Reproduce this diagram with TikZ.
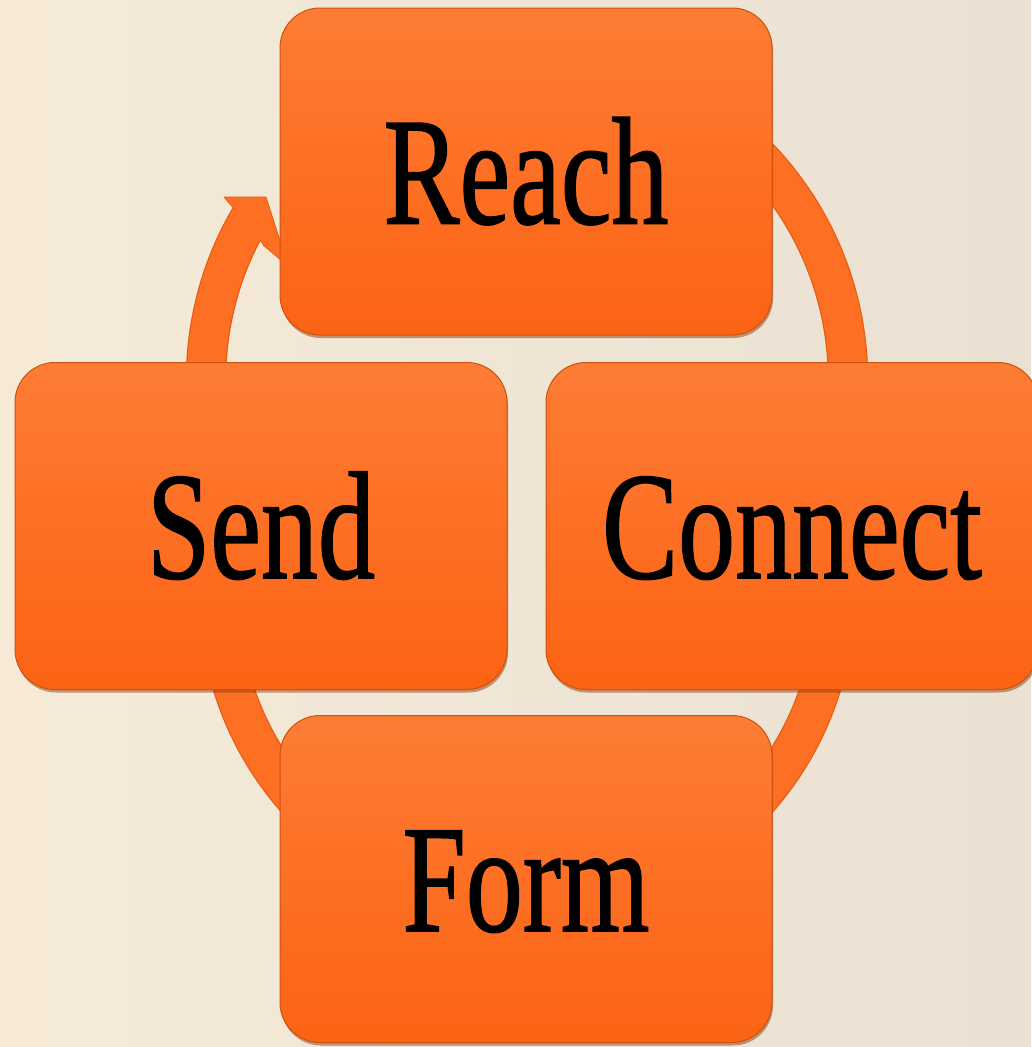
\documentclass[tikz,border=0pt]{standalone}
\usepackage{fontspec}
\setmainfont{Liberation Serif}
\newfontfamily\cyclefont[FakeBold=1.2]{Liberation Serif}
\usetikzlibrary{shadows}
\definecolor{bgL}{RGB}{246,234,215}
\definecolor{bgR}{RGB}{234,225,211}
\definecolor{boxTop}{RGB}{253,124,52}
\definecolor{boxBot}{RGB}{252,99,20}
\definecolor{boxEdge}{RGB}{205,82,12}
\definecolor{boxShadow}{RGB}{140,60,15}
\definecolor{ringFill}{RGB}{253,111,34}
\definecolor{ringEdge}{RGB}{232,92,18}
\newcommand\cyclelabel[1]{\scalebox{0.745}[1]{#1}}
\tikzset{
  blockbox/.style={shade, top color=boxTop, bottom color=boxBot, draw=boxEdge,
    line width=1pt, rounded corners=40pt, minimum width=492pt, minimum height=327pt,
    inner sep=0pt, font=\cyclefont\fontsize{153}{160}\selectfont, text height=104pt, text depth=0pt,
    drop shadow={shadow xshift=1pt, shadow yshift=-3pt, opacity=0.5, fill=boxShadow}},
  ringband/.style={line width=38pt, draw=ringFill, line cap=butt},
  ringedge/.style={line width=40.5pt, draw=ringEdge, line cap=butt},
}
\begin{document}
\begin{tikzpicture}[x=1pt,y=-1pt]
  \useasboundingbox (0,0) rectangle (1031,1047);
  \shade[left color=bgL, right color=bgR] (0,0) rectangle (1031,1047);
  \coordinate (ctop) at (527,380);
  \coordinate (cbot) at (527,595);
  % ring arcs (under the blocks)
  \foreach \st/\en/\c in {175/212/ctop, 298/365/ctop}{
    \draw[ringedge] ([shift={(\st:321)}]\c) arc[start angle=\st, end angle=\en, radius=321];
  }
  \foreach \st/\en/\c in {-5/52/cbot, 128/185/cbot}{
    \draw[ringedge] ([shift={(\st:308)}]\c) arc[start angle=\st, end angle=\en, radius=308];
  }
  \foreach \st/\en/\c in {175/212/ctop, 298/365/ctop}{
    \draw[ringband] ([shift={(\st:321)}]\c) arc[start angle=\st, end angle=\en, radius=321];
  }
  \foreach \st/\en/\c in {-5/52/cbot, 128/185/cbot}{
    \draw[ringband] ([shift={(\st:308)}]\c) arc[start angle=\st, end angle=\en, radius=308];
  }
  % arrowhead
  \fill[ringFill] (236,211) -- (224,197) -- (266,197) -- (288,266) -- (263,245) -- cycle;
  \draw[ringEdge, line width=0.8pt, line join=round] (236,211) -- (224,197) -- (266,197) -- (288,266) -- (263,245);
  % blocks
  \node[blockbox] (reach)   at (526,171.5) {\cyclelabel{Reach}};
  \node[blockbox] (send)    at (261,526)   {\cyclelabel{Send}};
  \node[blockbox] (connect) at (792,526)   {\cyclelabel{Connect}};
  \node[blockbox] (form)    at (526,879)   {\cyclelabel{Form}};
\end{tikzpicture}
\end{document}
